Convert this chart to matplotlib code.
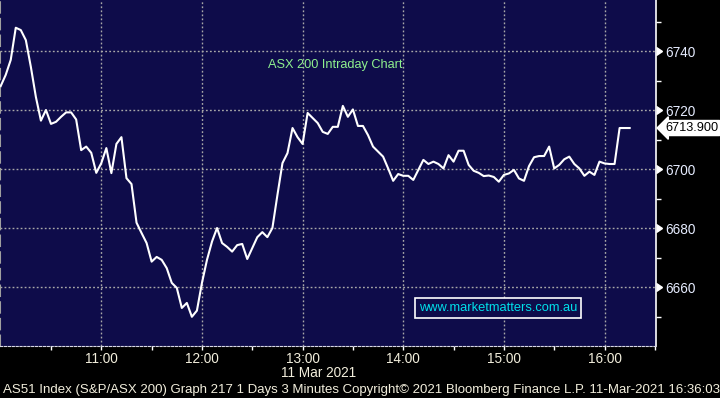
import matplotlib
matplotlib.use('Agg')
import matplotlib.pyplot as plt
import matplotlib.dates as mdates
import matplotlib.transforms as mtransforms
import pandas as pd

plt.rcParams['font.family'] = ['Liberation Sans', 'DejaVu Sans']

# ASX 200 分时数据，3分钟一个点，从10:00开始
start_time = '2021-03-11 10:00'
prices = [6728.1, 6731.9, 6737.0, 6747.9, 6747.1, 6743.7, 6734.6, 6724.4, 6716.4, 6720.0,
          6715.3, 6716.0, 6717.7, 6719.2, 6719.2, 6716.8, 6706.4, 6707.6, 6705.5, 6698.7,
          6702.0, 6707.1, 6698.6, 6708.5, 6710.8, 6696.9, 6694.9, 6681.8, 6678.3, 6674.9,
          6668.6, 6670.2, 6669.2, 6666.4, 6661.4, 6659.7, 6652.9, 6654.6, 6649.9, 6652.0,
          6661.4, 6669.2, 6675.4, 6680.0, 6674.9, 6673.6, 6672.0, 6674.2, 6674.6, 6669.5,
          6673.2, 6676.9, 6678.6, 6676.9, 6680.0, 6691.2, 6702.0, 6705.4, 6713.9, 6710.8,
          6708.5, 6719.0, 6717.3, 6715.6, 6712.6, 6711.9, 6714.3, 6714.3, 6721.4, 6717.7,
          6720.2, 6714.6, 6714.6, 6711.5, 6707.6, 6705.9, 6704.2, 6700.2, 6696.0, 6698.3,
          6697.7, 6697.7, 6696.3, 6699.7, 6703.1, 6701.7, 6702.5, 6701.7, 6700.2, 6704.7,
          6702.5, 6706.2, 6706.2, 6701.4, 6699.4, 6698.7, 6697.6, 6697.8, 6697.3, 6695.7,
          6698.0, 6698.5, 6699.7, 6696.8, 6696.0, 6701.0, 6704.0, 6704.4, 6704.4, 6707.6,
          6700.2, 6701.4, 6703.3, 6704.2, 6701.7, 6700.2, 6697.7, 6699.1, 6698.0, 6702.5,
          6701.9, 6701.7, 6701.7, 6713.9, 6713.9, 6713.9]
last_price = 6713.900
y_major = [6660, 6680, 6700, 6720, 6740]
y_minor = [6650, 6670, 6690, 6710, 6730, 6750]
x_hours = ['11:00', '12:00', '13:00', '14:00', '15:00', '16:00']
x_half = ['10:30', '11:30', '12:30', '13:30', '14:30', '15:30', '16:30']

times = pd.date_range(start_time, periods=len(prices), freq='3min')
day = '2021-03-11 '

navy = '#0e0c4a'
label_col = '#f2eedc'

fig = plt.figure(figsize=(7.2, 3.98), dpi=100, facecolor='black')
ax = fig.add_axes([0, 52 / 398, 656 / 720, 346 / 398])
ax.set_facecolor(navy)

ax.plot(times, prices, color='white', linewidth=1.5, zorder=3)

# 坐标范围
ax.set_xlim(pd.Timestamp(day + '10:00') - pd.Timedelta(minutes=0.4),
            pd.Timestamp(day + '10:00') + pd.Timedelta(minutes=390.7))
ax.set_ylim(6640, 6757.3)

# x轴刻度
ax.set_xticks([pd.Timestamp(day + h) for h in x_hours])
ax.set_xticks([pd.Timestamp(day + h) for h in x_half], minor=True)
ax.xaxis.set_major_formatter(mdates.DateFormatter('%H:%M'))
ax.tick_params(axis='x', which='both', colors='white', length=3, width=1,
               labelcolor=label_col, labelsize=9.8, pad=1.5)

# y轴在右边
ax.yaxis.tick_right()
ax.set_yticks(y_major)
ax.set_yticks(y_minor, minor=True)
ax.tick_params(axis='y', which='major', length=0, pad=7, labelsize=9.8, labelcolor='#e6ecff')
ax.tick_params(axis='y', which='minor', length=3.5, width=1, color='white')

ax.grid(True, which='major', color='#a8a8a8', linestyle=(0, (1.3, 1.6)), linewidth=1.0)

ax.spines['top'].set_visible(False)
ax.spines['right'].set_color('white')
ax.spines['right'].set_linewidth(1.2)
ax.spines['bottom'].set_color('#d8d8e8')
ax.spines['bottom'].set_linestyle((0, (2, 1.5)))
ax.spines['left'].set_color('#a0a0a0')
ax.spines['left'].set_linestyle((0, (5, 3)))
ax.spines['left'].set_linewidth(1.5)

# 右侧刻度三角
trans = mtransforms.blended_transform_factory(ax.transAxes, ax.transData)
ax.plot([1.0] * len(y_major), y_major, linestyle='none', marker=9, markersize=6,
        color='white', transform=trans, clip_on=False)

# 最新价标签
ax.text(1.0, last_price, f'{last_price:.3f}',
        transform=trans + mtransforms.ScaledTranslation(9 / 100, 0, fig.dpi_scale_trans),
        ha='left', va='center', fontsize=9.2, color='black', clip_on=False,
        bbox=dict(boxstyle='larrow,pad=0.12', fc='white', ec='white'))

# 标题和网址
fig.text(268 / 720, 1 - 65 / 398, 'ASX 200 Intraday Chart', color='#8ef08e', fontsize=9.2,
         ha='left', va='center')
fig.text(498 / 720, 1 - 308 / 398, 'www.marketmatters.com.au', color='#00e0ea', fontsize=9.3,
         ha='center', va='center',
         bbox=dict(boxstyle='square,pad=0.28', fc=navy, ec='white', lw=1.2))

fig.text(319 / 720, 1 - 373 / 398, '11 Mar 2021', color=label_col, fontsize=9.8,
         ha='center', va='center')
fig.text(3 / 720, 1 - 390 / 398,
         'AS51 Index (S&P/ASX 200) Graph 217 1 Days 3 Minutes Copyright\u00a9 2021 Bloomberg Finance L.P. 11-Mar-2021 16:36:03',
         color=label_col, fontsize=9.5, ha='left', va='center')

plt.savefig('out.png', dpi=100, facecolor='black')
